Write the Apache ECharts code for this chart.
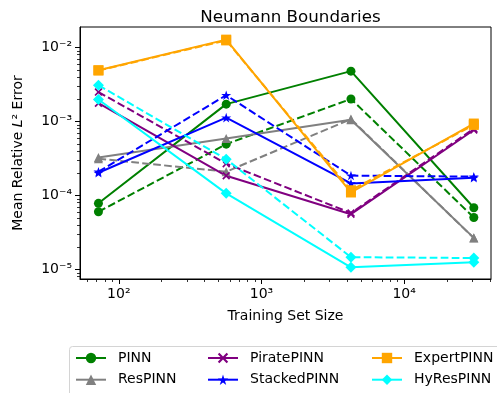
<!DOCTYPE html>
<html><head><meta charset="utf-8">
<script src="https://cdn.jsdelivr.net/npm/echarts@6/dist/echarts.min.js"></script>
<style>html,body{margin:0;padding:0;background:#fff}#c{width:497px;height:393px}</style>
</head><body><div id="c"></div>
<script>
// ---- data ----
const trainingSizes = [72, 566, 4240, 30800];
const pinnSolid      = [7.85e-5, 1.72e-3, 4.8e-3, 6.84e-5];
const pinnDashed     = [6.04e-5, 4.95e-4, 2.02e-3, 5.05e-5];
const resSolid       = [3.26e-4, 5.9e-4, 1.06e-3, 2.68e-5];
const resDashed      = [3.15e-4, 2.1e-4, 1.08e-3, 2.66e-5];
const pirateSolid    = [1.77e-3, 1.85e-4, 5.6e-5, 7.7e-4];
const pirateDashed   = [2.5e-3, 2.7e-4, 5.8e-5, 8.0e-4];
const stackedSolid   = [2.03e-4, 1.13e-3, 1.46e-4, 1.74e-4];
const stackedDashed  = [2.1e-4, 2.27e-3, 1.86e-4, 1.8e-4];
const expertSolid    = [4.94e-3, 1.28e-2, 1.1e-4, 9.4e-4];
const expertDashed   = [4.9e-3, 1.25e-2, 1.18e-4, 9.0e-4];
const hyresSolid     = [1.99e-3, 1.07e-4, 1.07e-5, 1.25e-5];
const hyresDashed    = [3.1e-3, 3.1e-4, 1.47e-5, 1.43e-5];
const modelNames = ['PINN', 'ResPINN', 'PiratePINN', 'StackedPINN', 'ExpertPINN', 'HyResPINN'];
const xTickValues = [100, 1000, 10000];
const xTickLabels = ['10²', '10³', '10⁴'];
const yTickValues = [1e-5, 1e-4, 1e-3, 1e-2];
const yTickLabels = ['10⁻⁵', '10⁻⁴', '10⁻³', '10⁻²'];
const xMinorTicks = [60, 70, 80, 90, 200, 300, 400, 500, 600, 700, 800, 900,
  2000, 3000, 4000, 5000, 6000, 7000, 8000, 9000, 20000, 30000, 40000];
const yMinorTicks = [8e-6, 9e-6, 2e-5, 3e-5, 4e-5, 5e-5, 6e-5, 7e-5, 8e-5, 9e-5,
  2e-4, 3e-4, 4e-4, 5e-4, 6e-4, 7e-4, 8e-4, 9e-4,
  2e-3, 3e-3, 4e-3, 5e-3, 6e-3, 7e-3, 8e-3, 9e-3];

// ---- styles ----
const FONT = 'DejaVu Sans';
const starPath = 'path://M50 0L61.23 34.55L97.55 34.55L68.17 55.9L79.39 90.45L50 69.1L20.61 90.45L31.83 55.9L2.45 34.55L38.77 34.55Z';
const xPath = 'path://M1.5 0L5 3.5L8.5 0L10 1.5L6.5 5L10 8.5L8.5 10L5 6.5L1.5 10L0 8.5L3.5 5L0 1.5Z';
const styles = [
  {color: '#008000', symbol: 'circle', size: 9},
  {color: '#808080', symbol: 'triangle', size: 9},
  {color: '#800080', symbol: xPath, size: 8},
  {color: '#0000ff', symbol: starPath, size: 10},
  {color: '#ffa500', symbol: 'rect', size: 10},
  {color: '#00ffff', symbol: 'diamond', size: 11}
];
const solidSets = [pinnSolid, resSolid, pirateSolid, stackedSolid, expertSolid, hyresSolid];
const dashedSets = [pinnDashed, resDashed, pirateDashed, stackedDashed, expertDashed, hyresDashed];

function pairs(ys) { return trainingSizes.map((x, i) => [x, ys[i]]); }
function mkSeries(name, ys, st, dashed) {
  return {
    type: 'line', name: name, data: pairs(ys),
    xAxisIndex: 0, yAxisIndex: 0,
    symbol: st.symbol, symbolSize: st.size, symbolKeepAspect: true,
    showSymbol: true, animation: false,
    lineStyle: {color: st.color, width: 2, type: dashed ? [7.7, 3.3] : 'solid'},
    itemStyle: {color: st.color, borderWidth: 0},
    emphasis: {disabled: true}
  };
}
const series = [];
modelNames.forEach((n, i) => {
  series.push(mkSeries(n, solidSets[i], styles[i], false));
  series.push(mkSeries(n + ' (dashed)', dashedSets[i], styles[i], true));
});

function lbl(values, labels) {
  return v => {
    const k = values.findIndex(t => Math.abs(Math.log10(t) - Math.log10(v)) < 1e-6);
    return k >= 0 ? labels[k] : '';
  };
}
const xMin = Math.pow(10, 1.728), xMax = Math.pow(10, 4.609);
const yMin = Math.pow(10, -5.128), yMax = Math.pow(10, -1.722);

const legendCommon = {
  orient: 'vertical', itemWidth: 30, itemHeight: 13, itemGap: 7.7, padding: 0,
  selectedMode: false,
  textStyle: {fontFamily: FONT, fontSize: 14, color: '#000', padding: [0, 0, 0, 7], lineHeight: 14}
};

const chart = echarts.init(document.getElementById('c'), null, {renderer: 'canvas'});
chart.setOption({
  animation: false,
  backgroundColor: '#fff',
  textStyle: {fontFamily: FONT},
  title: {
    text: 'Neumann Boundaries', left: 285.5, top: 4, textAlign: 'center',
    textStyle: {fontFamily: FONT, fontSize: 16.7, fontWeight: 'normal', color: '#000'}
  },
  grid: {left: 80, right: 6, top: 27, bottom: 114, show: true, borderColor: '#000', borderWidth: 1, backgroundColor: 'transparent'},
  legend: [
    Object.assign({data: ['PINN', 'ResPINN'], left: 75, top: 351}, legendCommon),
    Object.assign({data: ['PiratePINN', 'StackedPINN'], left: 207, top: 351}, legendCommon),
    Object.assign({data: ['ExpertPINN', 'HyResPINN'], left: 371, top: 351}, legendCommon)
  ],
  graphic: [{
    type: 'rect', z: -1, silent: true,
    shape: {x: 69.5, y: 346.5, width: 440, height: 60, r: 3},
    style: {fill: '#fff', stroke: '#d4d4d4', lineWidth: 1}
  }],
  xAxis: [{
    type: 'log', min: xMin, max: xMax, position: 'bottom',
    name: 'Training Set Size', nameLocation: 'middle', nameGap: 30,
    nameTextStyle: {fontFamily: FONT, fontSize: 14, color: '#000'},
    axisLine: {show: true, lineStyle: {color: '#000', width: 1}},
    axisTick: {show: true, inside: false, length: 5, customValues: xTickValues, lineStyle: {color: '#000', width: 1}},
    axisLabel: {show: true, customValues: xTickValues, formatter: lbl(xTickValues, xTickLabels), fontFamily: FONT, fontSize: 14, color: '#000', margin: 8},
    splitLine: {show: false}, minorTick: {show: false}
  }, {
    type: 'log', min: xMin, max: xMax, position: 'bottom', offset: 0,
    axisLine: {show: false},
    axisTick: {show: true, length: 3, customValues: xMinorTicks, lineStyle: {color: '#000', width: 0.8}},
    axisLabel: {show: false}, splitLine: {show: false}
  }],
  yAxis: [{
    type: 'log', min: yMin, max: yMax, position: 'left',
    name: 'Mean Relative {i|L}² Error', nameLocation: 'middle', nameGap: 55,
    nameTextStyle: {fontFamily: FONT, fontSize: 14, color: '#000', rich: {i: {fontFamily: FONT, fontSize: 14, fontStyle: 'italic', color: '#000'}}},
    axisLine: {show: true, lineStyle: {color: '#000', width: 1}},
    axisTick: {show: true, inside: false, length: 5, customValues: yTickValues, lineStyle: {color: '#000', width: 1}},
    axisLabel: {show: true, customValues: yTickValues, formatter: lbl(yTickValues, yTickLabels), fontFamily: FONT, fontSize: 14, color: '#000', margin: 8},
    splitLine: {show: false}, minorTick: {show: false}
  }, {
    type: 'log', min: yMin, max: yMax, position: 'left', offset: 0,
    axisLine: {show: false},
    axisTick: {show: true, length: 3, customValues: yMinorTicks, lineStyle: {color: '#000', width: 0.8}},
    axisLabel: {show: false}, splitLine: {show: false}
  }],
  series: series
});
</script>
</body></html>
